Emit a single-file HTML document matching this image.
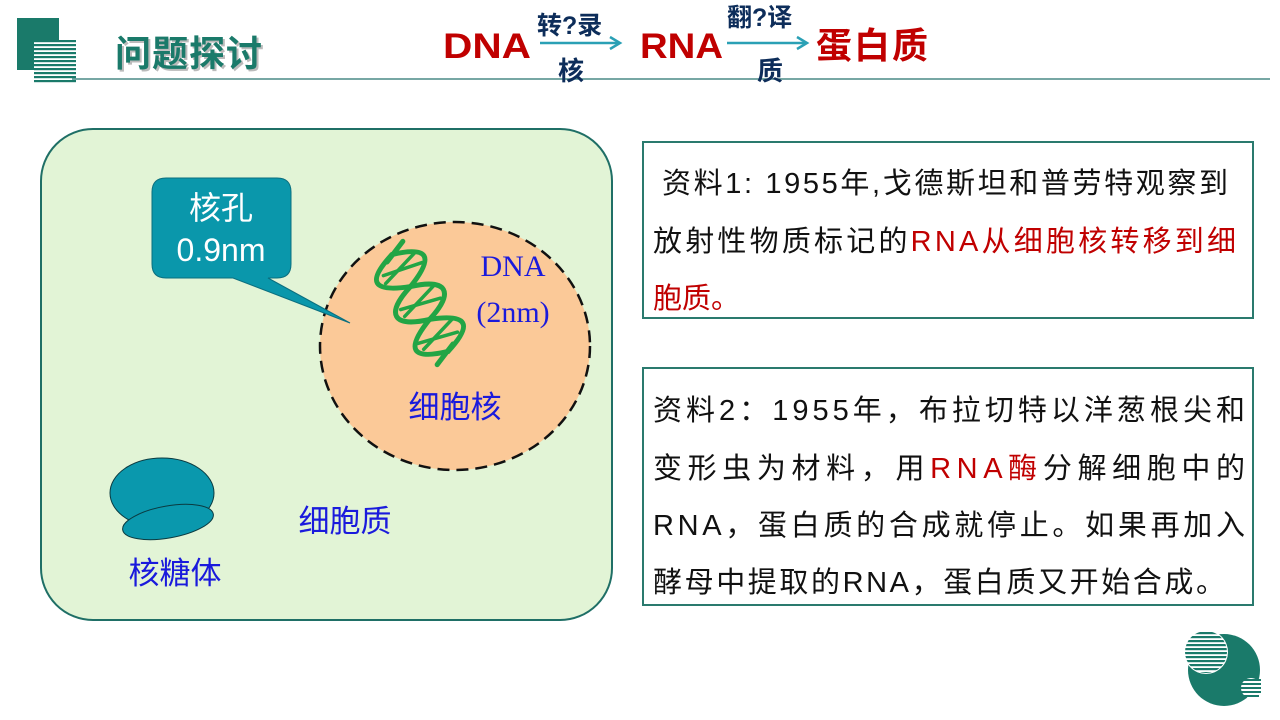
<!DOCTYPE html>
<html><head><meta charset="utf-8"><style>
html,body{margin:0;padding:0;background:#fff;width:1280px;height:720px;overflow:hidden}
svg{display:block}
text{font-family:"Liberation Sans","Noto Sans CJK SC",sans-serif}
</style></head><body>
<svg width="1280" height="720" viewBox="0 0 1280 720" xmlns="http://www.w3.org/2000/svg">
<defs>
<pattern id="hl" width="10" height="4" patternUnits="userSpaceOnUse"><rect width="10" height="2.2" fill="#1a7a6a"/></pattern>
<clipPath id="c1"><circle cx="1206" cy="652" r="21"/></clipPath>
</defs>
<rect x="17" y="18" width="42" height="52" fill="#1a7a6a"/>
<rect x="34" y="40" width="42" height="44" fill="#fff"/>
<rect x="34" y="40" width="42" height="44" fill="url(#hl)"/>
<line x1="72" y1="79" x2="1270" y2="79" stroke="#4a8a85" stroke-width="1.5"/>
<text x="117" y="68" font-size="36" font-weight="bold" fill="#bbb" textLength="147">问题探讨</text>
<text x="115" y="66" font-size="36" font-weight="bold" fill="#1a7a6a" textLength="147">问题探讨</text>
<text x="443" y="58" font-size="35" font-weight="bold" fill="#c00000" textLength="88" lengthAdjust="spacingAndGlyphs">DNA</text>
<text x="537" y="34" font-size="25" font-weight="bold" fill="#0d2d5a">转?录</text>
<line x1="540" y1="43" x2="618" y2="43" stroke="#2aa0b5" stroke-width="2.5"/>
<path d="M610 37 L620 43 L610 49" fill="none" stroke="#2aa0b5" stroke-width="2.5"/>
<text x="558" y="80" font-size="26" font-weight="bold" fill="#0d2d5a">核</text>
<text x="640" y="58" font-size="35" font-weight="bold" fill="#c00000" textLength="83" lengthAdjust="spacingAndGlyphs">RNA</text>
<text x="727" y="26" font-size="25" font-weight="bold" fill="#0d2d5a">翻?译</text>
<line x1="727" y1="43" x2="805" y2="43" stroke="#2aa0b5" stroke-width="2.5"/>
<path d="M797 37 L807 43 L797 49" fill="none" stroke="#2aa0b5" stroke-width="2.5"/>
<text x="757" y="80" font-size="26" font-weight="bold" fill="#0d2d5a">质</text>
<text x="816" y="58" font-size="36" font-weight="bold" fill="#c00000" textLength="112">蛋白质</text>
<rect x="41" y="129" width="571" height="491" rx="52" fill="#e2f4d6" stroke="#1f6f66" stroke-width="2"/>
<ellipse cx="455" cy="346" rx="135" ry="124" fill="#fbc998" stroke="#111" stroke-width="2.5" stroke-dasharray="12,7"/>
<path d="M166 178 H277 Q291 178 291 192 V264 Q291 278 277 278 H268 L350 323 L233 278 H166 Q152 278 152 264 V192 Q152 178 166 178 Z" fill="#0a97ab" stroke="#0b6f7f" stroke-width="1"/>
<text x="221" y="219" font-size="32" fill="#fff" text-anchor="middle">核孔</text>
<text x="221" y="261" font-size="32" fill="#fff" text-anchor="middle">0.9nm</text>
<g transform="translate(420,303) rotate(60)" fill="none" stroke="#22a545" stroke-width="5" stroke-linecap="round">
<path d="M-56 0 C-45 -36 -33 -36 -19 0 C-8 36 8 36 19 0 C33 -36 45 -36 56 0"/>
<path d="M-56 0 C-45 36 -33 36 -19 0 C-8 -36 8 -36 19 0 C33 36 45 36 56 0"/>
<g stroke-width="3.5">
<line x1="-46" y1="-20" x2="-34" y2="20"/><line x1="-34" y1="-22" x2="-42" y2="18"/>
<line x1="-8" y1="-20" x2="4" y2="20"/><line x1="6" y1="-20" x2="-4" y2="20"/>
<line x1="30" y1="-20" x2="42" y2="20"/><line x1="44" y1="-18" x2="34" y2="22"/>
</g>
<line x1="-62" y1="-16" x2="-52" y2="8"/>
<line x1="62" y1="16" x2="52" y2="-8"/>
</g>
<text x="513" y="276" font-size="30" fill="#1a1adc" text-anchor="middle" style="font-family:'Liberation Serif',serif">DNA</text>
<text x="513" y="322" font-size="30" fill="#1a1adc" text-anchor="middle" style="font-family:'Liberation Serif',serif">(2nm)</text>
<text x="455" y="418" font-size="31" fill="#1a1adc" text-anchor="middle">细胞核</text>
<text x="345" y="532" font-size="31" fill="#1a1adc" text-anchor="middle">细胞质</text>
<text x="175" y="584" font-size="31" fill="#1a1adc" text-anchor="middle">核糖体</text>
<ellipse cx="162" cy="493" rx="52" ry="35" fill="#0a98ad" stroke="#0a3a40" stroke-width="1"/>
<ellipse cx="168" cy="522" rx="46" ry="16" transform="rotate(-10 168 522)" fill="#0a98ad" stroke="#0a3a40" stroke-width="1"/>
<rect x="643" y="142" width="610" height="176" fill="#fff" stroke="#2a7a6e" stroke-width="2"/>
<text x="662" y="193" font-size="29" fill="#111" textLength="566">资料1: 1955年,戈德斯坦和普劳特观察到</text>
<text x="653" y="251" font-size="29" fill="#111" textLength="583">放射性物质标记的<tspan fill="#c00000">RNA从细胞核转移到细</tspan></text>
<text x="653" y="308" font-size="29" fill="#c00000">胞质。</text>
<rect x="643" y="368" width="610" height="237" fill="#fff" stroke="#2a7a6e" stroke-width="2"/>
<text x="653" y="420" font-size="29" fill="#111" textLength="592">资料2：1955年，布拉切特以洋葱根尖和</text>
<text x="653" y="478" font-size="29" fill="#111" textLength="592">变形虫为材料，用<tspan fill="#c00000">RNA酶</tspan>分解细胞中的</text>
<text x="653" y="535" font-size="29" fill="#111" textLength="592">RNA，蛋白质的合成就停止。如果再加入</text>
<text x="653" y="592" font-size="29" fill="#111" textLength="572">酵母中提取的RNA，蛋白质又开始合成。</text>
<circle cx="1224" cy="670" r="36" fill="#1a7a6a"/>
<circle cx="1206" cy="652" r="22" fill="#fff"/>
<rect x="1184" y="630" width="44" height="44" fill="url(#hl)" clip-path="url(#c1)"/>
<circle cx="1251" cy="688" r="10" fill="#fff"/>
<rect x="1241" y="679" width="20" height="2" fill="#1a7a6a"/>
<rect x="1241" y="683" width="20" height="2" fill="#1a7a6a"/>
<rect x="1241" y="687" width="20" height="2" fill="#1a7a6a"/>
<rect x="1241" y="691" width="20" height="2" fill="#1a7a6a"/>
<rect x="1243" y="695" width="16" height="2" fill="#1a7a6a"/>
</svg>
</body></html>
